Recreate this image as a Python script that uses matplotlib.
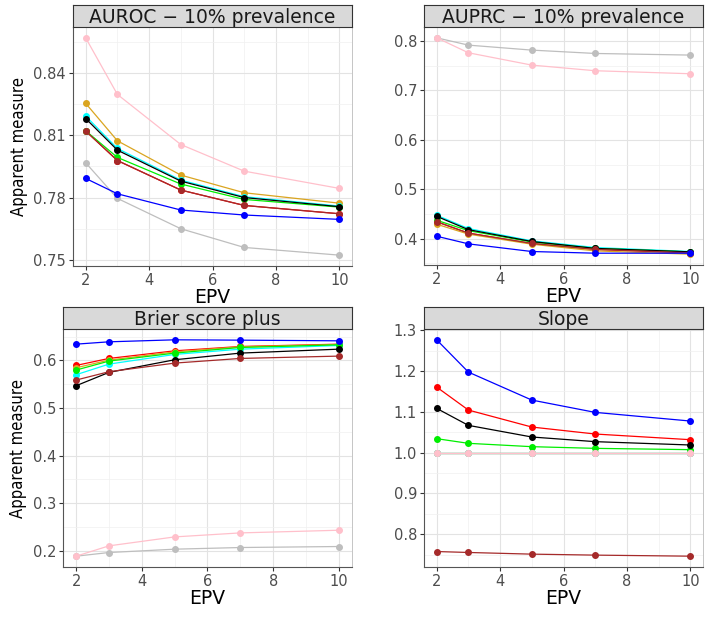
import matplotlib
matplotlib.use("Agg")
import matplotlib.pyplot as plt
from matplotlib.ticker import MultipleLocator

plt.rcParams['font.family'] = ['DejaVu Sans']

epv = [2, 3, 5, 7, 10]

# series names / colours (same order in every panel)
series = ['red', 'orange', 'cyan', 'green', 'black', 'brown', 'grey', 'pink', 'blue']
colors = {'red': '#FF0000', 'orange': '#DAA520', 'cyan': '#00FFFF', 'green': '#00EE00',
          'black': '#000000', 'brown': '#A52A2A', 'grey': '#BEBEBE', 'pink': '#FFC0CB',
          'blue': '#0000FF'}

auroc = {
    'red':    [0.8120, 0.7978, 0.7836, 0.7762, 0.7722],
    'orange': [0.8253, 0.8073, 0.7908, 0.7823, 0.7773],
    'cyan':   [0.8192, 0.8036, 0.7884, 0.7804, 0.7759],
    'green':  [0.8121, 0.7993, 0.7865, 0.7791, 0.7754],
    'black':  [0.8180, 0.8028, 0.7879, 0.7800, 0.7756],
    'brown':  [0.8120, 0.7978, 0.7836, 0.7762, 0.7722],
    'grey':   [0.7967, 0.7796, 0.7650, 0.7560, 0.7523],
    'pink':   [0.8568, 0.8296, 0.8055, 0.7927, 0.7844],
    'blue':   [0.7892, 0.7818, 0.7740, 0.7716, 0.7695],
}

auprc = {
    'red':    [0.434, 0.411, 0.390, 0.378, 0.371],
    'orange': [0.429, 0.409, 0.3885, 0.375, 0.3683],
    'cyan':   [0.4472, 0.4202, 0.3953, 0.3818, 0.3737],
    'green':  [0.437, 0.416, 0.393, 0.380, 0.373],
    'black':  [0.445, 0.418, 0.394, 0.380, 0.373],
    'brown':  [0.434, 0.411, 0.390, 0.378, 0.371],
    'grey':   [0.8067, 0.7919, 0.7818, 0.7750, 0.7717],
    'pink':   [0.8067, 0.7764, 0.7514, 0.7400, 0.7339],
    'blue':   [0.4047, 0.3892, 0.3737, 0.3703, 0.3703],
}

brier = {
    'red':    [0.5895, 0.6042, 0.6202, 0.6293, 0.6342],
    'orange': [0.5846, 0.6007, 0.6180, 0.6286, 0.6335],
    'cyan':   [0.5700, 0.5923, 0.6126, 0.6237, 0.6314],
    'green':  [0.5798, 0.5986, 0.6154, 0.6272, 0.6328],
    'black':  [0.5469, 0.5749, 0.6014, 0.6154, 0.6237],
    'brown':  [0.5588, 0.5763, 0.5944, 0.6042, 0.6091],
    'grey':   [0.1888, 0.1965, 0.2035, 0.2070, 0.2091],
    'pink':   [0.1888, 0.2105, 0.2293, 0.2377, 0.2433],
    'blue':   [0.6342, 0.6391, 0.6433, 0.6426, 0.6412],
}

slope = {
    'red':    [1.1605, 1.1042, 1.0626, 1.0455, 1.0316],
    'orange': [1.0, 1.0, 1.0, 1.0, 1.0],
    'cyan':   [1.0, 1.0, 1.0, 1.0, 1.0],
    'green':  [1.0341, 1.0227, 1.0145, 1.0104, 1.0072],
    'black':  [1.1083, 1.0667, 1.0382, 1.0268, 1.0186],
    'brown':  [0.7576, 0.7553, 0.7512, 0.7488, 0.7462],
    'grey':   [1.0, 1.0, 1.0, 1.0, 1.0],
    'pink':   [1.0, 1.0, 1.0, 1.0, 1.0],
    'blue':   [1.2763, 1.1972, 1.1287, 1.0985, 1.0773],
}

titles = ['AUROC \u2212 10% prevalence', 'AUPRC \u2212 10% prevalence',
          'Brier score plus', 'Slope']
panels = [auroc, auprc, brier, slope]
y_major = [0.03, 0.1, 0.1, 0.1]

W, H = 718, 619
# panel boxes in pixels: left, top, right, bottom
boxes = [(73, 27, 352, 266), (424, 27, 703, 265),
         (63, 329, 352, 567), (424, 329, 703, 567)]
strip_h = 22

fig = plt.figure(figsize=(W / 100, H / 100), dpi=100)

for i, (data, title, box) in enumerate(zip(panels, titles, boxes)):
    l, t, r, b = box
    ax = fig.add_axes([l / W, 1 - b / H, (r - l) / W, (b - t) / H])
    ax.set_facecolor('white')
    for name in series:
        ax.plot(epv, data[name], color=colors[name], lw=0.9, marker='o',
                markersize=4, zorder=3)
    ax.margins(x=0.05, y=0.05)
    ax.xaxis.set_major_locator(MultipleLocator(2))
    ax.xaxis.set_minor_locator(MultipleLocator(1))
    ax.yaxis.set_major_locator(MultipleLocator(y_major[i]))
    ax.yaxis.set_minor_locator(MultipleLocator(y_major[i] / 2))
    ax.grid(True, which='major', color='#E3E3E3', lw=0.8, zorder=0)
    ax.grid(True, which='minor', color='#F0F0F0', lw=0.5, zorder=0)
    ax.set_axisbelow(True)
    ax.tick_params(which='major', length=3, color='#333333', labelsize=10.5,
                   labelcolor='#4D4D4D', pad=2)
    ax.tick_params(which='minor', length=0)
    if i == 0:
        ax.yaxis.set_major_formatter(plt.FormatStrFormatter('%.2f'))
    else:
        ax.yaxis.set_major_formatter(plt.FormatStrFormatter('%.1f'))
    for side in ['left', 'bottom']:
        ax.spines[side].set_color('#555555')
        ax.spines[side].set_linewidth(0.8)
    for side in ['top', 'right']:
        ax.spines[side].set_color('#BBBBBB')
        ax.spines[side].set_linewidth(0.6)
    ax.set_xlabel('EPV', fontsize=13.5, labelpad=0)
    if i % 2 == 0:
        ax.set_ylabel('Apparent measure', fontsize=12, labelpad=4,
                      fontstretch='condensed')

    # facet strip
    sax = fig.add_axes([l / W, 1 - t / H, (r - l) / W, strip_h / H])
    sax.set_facecolor('#D9D9D9')
    sax.set_xticks([])
    sax.set_yticks([])
    for sp in sax.spines.values():
        sp.set_color('#333333')
        sp.set_linewidth(0.8)
    sax.text(0.5, 0.45, title, ha='center', va='center', fontsize=13.5,
             color='#1A1A1A', transform=sax.transAxes)

fig.savefig('out.png', dpi=100)
